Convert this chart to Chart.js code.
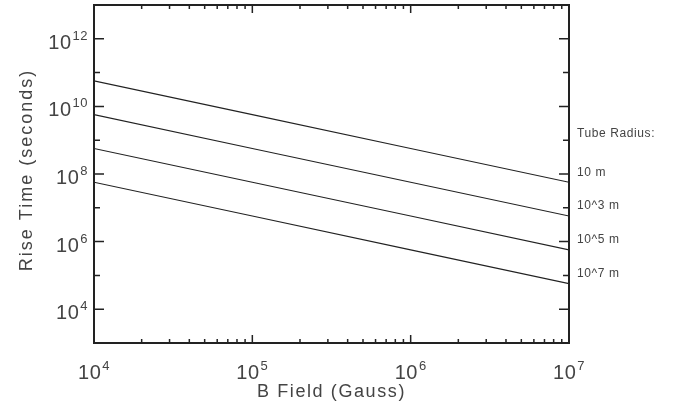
<!DOCTYPE html>
<html>
<head>
<meta charset="utf-8">
<script src="https://cdn.jsdelivr.net/npm/chart.js@4/dist/chart.umd.min.js"></script>
<style>
  html, body { margin: 0; padding: 0; background: #fff; }
  #wrap { width: 689px; height: 405px; }
</style>
</head>
<body>
<div id="wrap"><canvas id="rise-chart"></canvas></div>
<script>
// B field (Gauss) and rise times (seconds), one series per tube radius
const bField = [1e4, 1e5, 1e6, 1e7];
const riseR1 = [5.7e10, 5.7e9, 5.7e8, 5.7e7];
const riseR3 = [5.7e9, 5.7e8, 5.7e7, 5.7e6];
const riseR5 = [5.7e8, 5.7e7, 5.7e6, 5.7e5];
const riseR7 = [5.7e7, 5.7e6, 5.7e5, 5.7e4];
const radiusLabels = ["10 m", "10^3 m", "10^5 m", "10^7 m"];
const xTickExps = [4, 5, 6, 7];
const yTickExps = [4, 6, 8, 10, 12];

const FONT = "'Liberation Sans', 'DejaVu Sans', sans-serif";
const INK = "#444";

function series(vals) {
  return {
    data: bField.map((b, i) => ({ x: b, y: vals[i] })),
    borderColor: "#222",
    borderWidth: 1.1,
    pointRadius: 0,
    fill: false,
    tension: 0,
  };
}

function drawPower(ctx, exp, x, y, align) {
  ctx.font = "20px " + FONT;
  const w1 = ctx.measureText("10").width;
  ctx.font = "13px " + FONT;
  const w2 = ctx.measureText(String(exp)).width;
  const total = w1 + w2 + 1;
  let left = align === "center" ? x - total / 2 : x - total;
  ctx.font = "20px " + FONT;
  ctx.fillText("10", left, y);
  ctx.font = "13px " + FONT;
  ctx.fillText(String(exp), left + w1 + 1, y - 9);
}

const framePlugin = {
  id: "frame",
  afterDraw(chart) {
    const { ctx, chartArea: a, scales } = chart;
    const xs = scales.x, ys = scales.y;
    ctx.save();
    ctx.strokeStyle = "#222";

    // ticks, mirrored on both sides
    ctx.lineWidth = 1.5;
    ctx.beginPath();
    for (let e = 4; e < 7; e++) {
      for (let m = 1; m <= 9; m++) {
        const v = m * Math.pow(10, e);
        if (v <= 1e4) continue;
        const px = xs.getPixelForValue(v);
        const len = m === 1 ? 8 : 4;
        ctx.moveTo(px, a.bottom); ctx.lineTo(px, a.bottom - len);
        ctx.moveTo(px, a.top); ctx.lineTo(px, a.top + len);
      }
    }
    for (let e = 4; e <= 12; e++) {
      const py = ys.getPixelForValue(Math.pow(10, e));
      const len = e % 2 === 0 ? 10 : 6;
      ctx.moveTo(a.left, py); ctx.lineTo(a.left + len, py);
      ctx.moveTo(a.right, py); ctx.lineTo(a.right - len, py);
    }
    ctx.stroke();

    // frame
    ctx.lineWidth = 2;
    ctx.strokeRect(a.left, a.top, a.right - a.left, a.bottom - a.top);

    // tick labels
    ctx.fillStyle = INK;
    ctx.textBaseline = "alphabetic";
    ctx.textAlign = "left";
    ctx.letterSpacing = "0.5px";
    xTickExps.forEach((e) => {
      drawPower(ctx, e, xs.getPixelForValue(Math.pow(10, e)), a.bottom + 36, "center");
    });
    yTickExps.forEach((e) => {
      drawPower(ctx, e, a.left - 6, ys.getPixelForValue(Math.pow(10, e)) + 10, "right");
    });

    // axis titles
    ctx.font = "18px " + FONT;
    ctx.letterSpacing = "1.6px";
    ctx.textAlign = "center";
    ctx.fillText("B Field (Gauss)", (a.left + a.right) / 2, a.bottom + 54);
    ctx.letterSpacing = "2px";
    ctx.save();
    ctx.translate(32, 170);
    ctx.rotate(-Math.PI / 2);
    ctx.fillText("Rise Time (seconds)", 0, 0);
    ctx.restore();

    // radius labels beside line ends
    ctx.font = "12px " + FONT;
    ctx.letterSpacing = "0.6px";
    ctx.textAlign = "left";
    ctx.textBaseline = "middle";
    const ends = [riseR1, riseR3, riseR5, riseR7].map((s) => ys.getPixelForValue(s[s.length - 1]));
    ctx.fillText("Tube Radius:", a.right + 8, ends[0] - 49);
    radiusLabels.forEach((t, i) => {
      ctx.fillText(t, a.right + 8, ends[i] - 10);
    });
    ctx.restore();
  },
};

new Chart(document.getElementById("rise-chart"), {
  type: "line",
  data: {
    datasets: [series(riseR1), series(riseR3), series(riseR5), series(riseR7)],
  },
  options: {
    responsive: true,
    maintainAspectRatio: false,
    animation: false,
    layout: { padding: { left: 94, right: 120, top: 5, bottom: 62 } },
    plugins: { legend: { display: false }, tooltip: { enabled: false } },
    scales: {
      x: {
        type: "logarithmic",
        min: 1e4,
        max: 1e7,
        ticks: { display: false },
        grid: { display: false, drawTicks: false },
        border: { display: false },
      },
      y: {
        type: "logarithmic",
        min: 1e3,
        max: 1e13,
        ticks: { display: false },
        grid: { display: false, drawTicks: false },
        border: { display: false },
      },
    },
  },
  plugins: [framePlugin],
});
</script>
</body>
</html>
